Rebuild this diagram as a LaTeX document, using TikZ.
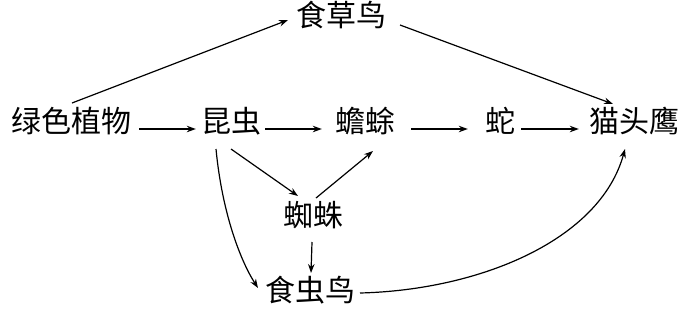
\documentclass[tikz,border=0pt]{standalone}
\usepackage{fontspec}
\newfontfamily\cjk{Noto Sans CJK SC}
\usetikzlibrary{arrows.meta,calc}
\begin{document}
\begin{tikzpicture}[x=1pt,y=-1pt,
  lbl/.style={font=\cjk\fontsize{30}{32}\selectfont, inner sep=0pt, text height=0.88em, text depth=0.12em},
  arr/.style={line width=1.2pt, -{Stealth[length=9pt,width=6.5pt]}}]
\useasboundingbox (0,0) rectangle (685,314);
\node[lbl] (lv)  at (72,129)  {绿色植物};
\node[lbl] (kc)  at (231,129) {昆虫};
\node[lbl] (cc)  at (365,129) {蟾蜍};
\node[lbl] (she) at (500,129) {蛇};
\node[lbl] (mty) at (634,129) {猫头鹰};
\node[lbl] (ccn) at (341,23)  {食草鸟};
\node[lbl] (zz)  at (313,223) {蜘蛛};
\node[lbl] (scn) at (310,298) {食虫鸟};
% horizontal chain
\draw[arr, shorten <=7pt, shorten >=5pt] (lv.east) -- (kc.west);
\draw[arr, shorten <=4pt, shorten >=13pt] (kc.east) -- (cc.west);
\draw[arr, shorten <=16pt, shorten >=17pt] (cc.east) -- (she.west);
\draw[arr, shorten <=6pt, shorten >=10pt] (she.east) -- (mty.west);
% top
\draw[arr] ($(lv.center)+(0,-26)$) -- ($(ccn.center)+(-53,-3)$);
\draw[arr] ($(ccn.center)+(59,2)$) -- ($(mty.center)+(-21,-25)$);
% spider
\draw[arr] ($(kc.center)+(0,20)$) -- ($(zz.center)+(-15,-27)$);
\draw[arr] ($(zz.center)+(3,-25)$) -- ($(cc.center)+(8,22)$);
\draw[arr] ($(zz.center)+(-1,19)$) -- ($(scn.center)+(1,-25)$);
% curves
\draw[arr] ($(kc.center)+(-15,20)$) .. controls ($(kc.center)+(-9,83)$) and ($(scn.center)+(-70,-38)$) .. ($(scn.center)+(-52,-10)$);
\draw[arr] ($(scn.center)+(50,-5)$) .. controls ($(scn.center)+(170,-8)$) and ($(mty.center)+(-34,111)$) .. ($(mty.center)+(-9,20)$);
\end{tikzpicture}
\end{document}
